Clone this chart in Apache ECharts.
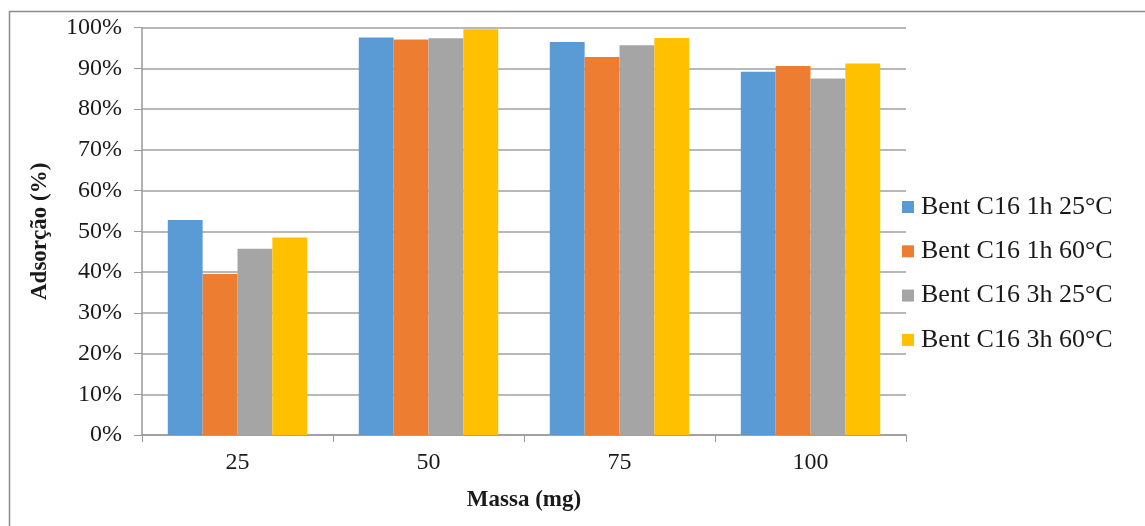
<!DOCTYPE html>
<html>
<head>
<meta charset="utf-8">
<script src="https://cdn.jsdelivr.net/npm/echarts@6/dist/echarts.min.js"></script>
<style>
  html, body { margin: 0; padding: 0; background: #fff; }
  #chart { width: 1145px; height: 526px; }
</style>
</head>
<body>
<div id="chart"></div>
<script>
const categories = ['25', '50', '75', '100']
const seriesNames = ['Bent C16 1h 25°C', 'Bent C16 1h 60°C', 'Bent C16 3h 25°C', 'Bent C16 3h 60°C']
const bent1h25 = [52.8, 97.6, 96.5, 89.2]
const bent1h60 = [39.5, 97.1, 92.8, 90.6]
const bent3h25 = [45.7, 97.4, 95.7, 87.5]
const bent3h60 = [48.5, 99.6, 97.5, 91.2]
const colors = ['#5B9BD5', '#ED7D31', '#A5A5A5', '#FFC000']

const font = 'Liberation Serif, Times New Roman, serif'

const chart = echarts.init(document.getElementById('chart'))

const seriesDefault = {
  type: 'bar',
  barGap: '0%',
  barCategoryGap: '27%',
}

const option = {
  animation: false,
  color: colors,
  textStyle: { fontFamily: font },
  graphic: [{
    type: 'rect',
    shape: { x: 9.5, y: 11.5, width: 1200, height: 600 },
    style: { fill: null, stroke: '#8c8c8c', lineWidth: 1.5 },
    silent: true,
  }],
  legend: {
    orient: 'vertical',
    left: 897,
    top: 189,
    icon: 'rect',
    itemWidth: 12,
    itemHeight: 12,
    itemGap: 18.3,
    textStyle: { fontFamily: font, fontSize: 26, color: '#1a1a1a', lineHeight: 25, padding: [0, 0, 0, 2] },
    data: seriesNames,
  },
  grid: {
    left: 142,
    right: 239,
    top: 27.7,
    bottom: 91,
  },
  xAxis: {
    type: 'category',
    data: categories,
    name: 'Massa (mg)',
    nameLocation: 'middle',
    nameGap: 54,
    nameTextStyle: { fontFamily: font, fontSize: 23, fontWeight: 'bold', color: '#1a1a1a' },
    axisLine: { lineStyle: { color: '#999', width: 1.5 } },
    axisTick: { show: true, length: 7, lineStyle: { color: '#999' } },
    axisLabel: { fontFamily: font, fontSize: 24, color: '#1a1a1a', margin: 16 },
  },
  yAxis: {
    type: 'value',
    min: 0,
    max: 100,
    interval: 10,
    name: 'Adsorção (%)',
    nameLocation: 'middle',
    nameGap: 90,
    nameRotate: 90,
    nameTextStyle: { fontFamily: font, fontSize: 23, fontWeight: 'bold', color: '#1a1a1a' },
    axisLine: { show: true, lineStyle: { color: '#999', width: 1.5 } },
    axisTick: { show: true, length: 8, lineStyle: { color: '#999' } },
    axisLabel: { fontFamily: font, fontSize: 24, color: '#1a1a1a', margin: 20, formatter: '{value}%' },
    splitLine: { lineStyle: { color: '#a0a0a0', width: 1.5 } },
  },
  series: [
    { ...seriesDefault, name: seriesNames[0], data: bent1h25 },
    { ...seriesDefault, name: seriesNames[1], data: bent1h60 },
    { ...seriesDefault, name: seriesNames[2], data: bent3h25 },
    { ...seriesDefault, name: seriesNames[3], data: bent3h60 },
  ]
}

chart.setOption(option)
</script>
</body>
</html>
